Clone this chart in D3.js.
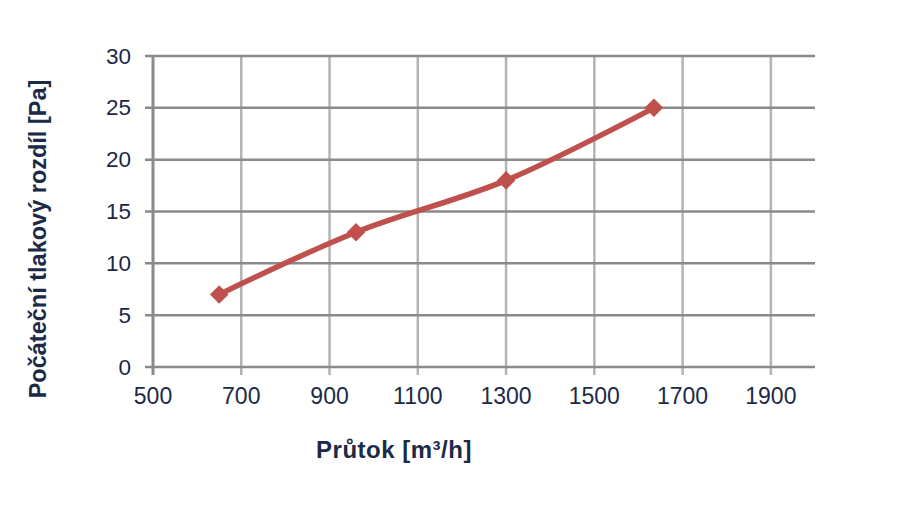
<!DOCTYPE html>
<html><head><meta charset="utf-8">
<script src="https://cdn.jsdelivr.net/npm/d3@7"></script>
<style>body{margin:0;background:#fff;}svg{display:block;}</style>
</head><body>
<script>
const flow = [650, 960, 1300, 1635];
const pressure = [7, 13, 18, 25];
const xTicks = [500, 700, 900, 1100, 1300, 1500, 1700, 1900];
const yTicks = [0, 5, 10, 15, 20, 25, 30];
const xTitle = "Průtok [m³/h]";
const yTitle = "Počáteční tlakový rozdíl [Pa]";

const W = 900, H = 506;
const svg = d3.select("body").append("svg").attr("width", W).attr("height", H);
const x = d3.scaleLinear().domain([500, 2000]).range([153, 815]);
const y = d3.scaleLinear().domain([0, 30]).range([367, 56]);
const txt = "#1b2a47";
const font = "'Liberation Sans', Arial, sans-serif";

// vertical gridlines (light)
svg.append("g").selectAll("line").data(xTicks.slice(1)).join("line")
  .attr("x1", d => x(d)).attr("x2", d => x(d))
  .attr("y1", y(30)).attr("y2", y(0) + 8)
  .attr("stroke", "#b4b4b4").attr("stroke-width", 2.5);
// horizontal gridlines (darker)
svg.append("g").selectAll("line").data(yTicks).join("line")
  .attr("x1", x(500) - 8).attr("x2", x(2000))
  .attr("y1", d => y(d)).attr("y2", d => y(d))
  .attr("stroke", "#8a8a8a").attr("stroke-width", 2.5);
// left axis
svg.append("line").attr("x1", x(500)).attr("x2", x(500))
  .attr("y1", y(30)).attr("y2", y(0) + 8)
  .attr("stroke", "#8a8a8a").attr("stroke-width", 3);

// tick labels
svg.append("g").selectAll("text").data(yTicks).join("text")
  .attr("x", 131).attr("y", d => y(d) + 7.5)
  .attr("text-anchor", "end").attr("font-family", font).attr("font-size", 22.5)
  .attr("fill", txt).text(d => d);
svg.append("g").selectAll("text").data(xTicks).join("text")
  .attr("x", d => x(d)).attr("y", 404)
  .attr("text-anchor", "middle").attr("font-family", font).attr("font-size", 23)
  .attr("fill", txt).text(d => d);

// titles
svg.append("text").attr("x", 394).attr("y", 458).attr("text-anchor", "middle")
  .attr("font-family", font).attr("font-size", 24).attr("font-weight", "bold")
  .attr("letter-spacing", "0.5px")
  .attr("fill", txt).text(xTitle);
svg.append("text").attr("transform", "translate(46,239) rotate(-90)")
  .attr("text-anchor", "middle")
  .attr("font-family", font).attr("font-size", 23.5).attr("font-weight", "bold")
  .attr("fill", txt).text(yTitle);

// line
const pts = flow.map((f, i) => [f, pressure[i]]);
svg.append("path").datum(pts)
  .attr("d", d3.line().curve(d3.curveCatmullRom.alpha(0.5)).x(d => x(d[0])).y(d => y(d[1])))
  .attr("fill", "none").attr("stroke", "#c0504d").attr("stroke-width", 5.5)
  .attr("stroke-linejoin", "round");
svg.append("g").selectAll("path").data(pts).join("path")
  .attr("transform", d => `translate(${x(d[0])},${y(d[1])})`)
  .attr("d", d3.symbol(d3.symbolDiamond2, 220)())
  .attr("fill", "#c0504d");
</script>
</body></html>
